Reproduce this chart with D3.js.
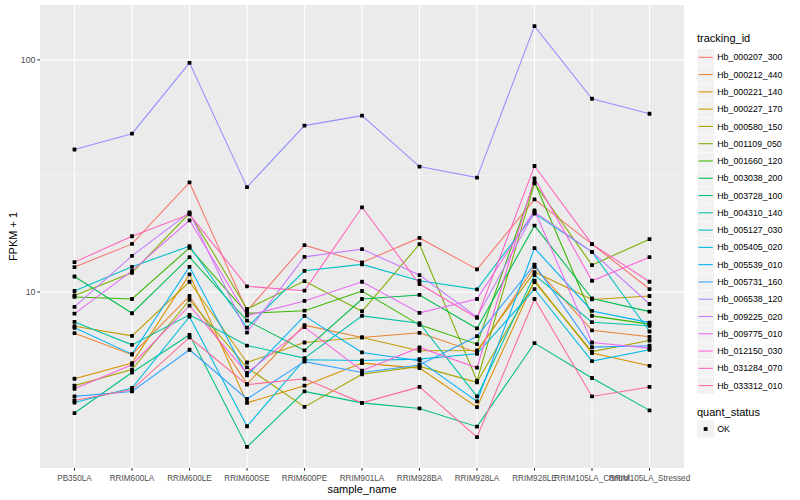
<!DOCTYPE html>
<html><head><meta charset="utf-8">
<script src="https://cdn.jsdelivr.net/npm/d3@7"></script>
<style>body{margin:0;background:#fff}svg{display:block;font-family:"Liberation Sans",Arial,sans-serif}</style>
</head><body>
<svg id="c" width="800" height="500"></svg>
<script>
const categories = ["PB350LA","RRIM600LA","RRIM600LE","RRIM600SE","RRIM600PE","RRIM901LA","RRIM928BA","RRIM928LA","RRIM928LE","RRIM105LA_Control","RRIM105LA_Stressed"];
const trackingIds = ["Hb_000207_300","Hb_000212_440","Hb_000221_140","Hb_000227_170","Hb_000580_150","Hb_001109_050","Hb_001660_120","Hb_003038_200","Hb_003728_100","Hb_004310_140","Hb_005127_030","Hb_005405_020","Hb_005539_010","Hb_005731_160","Hb_006538_120","Hb_009225_020","Hb_009775_010","Hb_012150_030","Hb_031284_070","Hb_033312_010"];
const hb_000207_300 = [12.80,16.12,29.65,8.29,15.91,13.41,17.10,12.52,25.07,16.07,10.30];
const hb_000212_440 = [6.65,5.37,9.61,4.02,7.20,6.37,6.67,5.49,12.84,6.84,6.41];
const hb_000221_140 = [4.23,4.94,11.91,3.33,3.95,4.94,4.70,3.19,11.20,5.46,4.81];
const hb_000227_170 = [7.12,6.47,11.07,4.97,6.06,6.37,5.58,5.60,12.19,9.29,9.61];
const hb_000580_150 = [3.95,4.63,9.24,4.73,3.20,4.42,4.78,4.08,11.04,5.54,6.18];
const hb_001109_050 = [9.66,12.10,21.83,8.45,11.15,8.26,16.07,4.15,29.36,13.06,16.89];
const hb_001660_120 = [9.52,9.33,15.49,8.10,8.31,10.10,7.22,5.96,29.80,7.89,7.27];
const hb_003038_200 = [11.66,8.10,14.13,7.53,5.60,9.33,9.71,6.97,19.33,9.38,8.23];
const hb_003728_100 = [3.01,4.50,6.54,2.15,3.73,3.33,3.15,2.63,6.02,4.26,3.09];
const hb_004310_140 = [7.43,5.92,7.97,5.88,5.19,7.89,7.34,3.55,11.83,7.41,7.15];
const hb_005127_030 = [10.10,12.84,15.76,7.03,12.34,13.15,11.18,10.27,21.76,14.89,6.76];
const hb_005405_020 = [3.34,3.86,7.83,2.64,5.11,5.07,5.14,5.42,10.30,5.04,5.64];
const hb_005539_010 = [7.01,5.40,12.84,4.37,7.89,5.49,5.06,3.38,15.45,8.29,7.38];
const hb_005731_160 = [3.55,3.73,5.64,3.46,5.01,4.50,4.85,6.45,13.12,5.79,5.87];
const hb_006538_120 = [41.1,48.1,97.1,28.3,52.1,57.5,34.7,31.1,139.9,68.0,58.6];
const hb_009225_020 = [8.62,14.32,22.05,6.69,14.17,15.30,11.83,7.79,22.11,14.89,8.88];
const hb_009775_010 = [8.07,12.34,20.37,7.91,9.15,11.07,8.13,9.33,22.48,6.06,5.73];
const hb_012150_030 = [3.83,4.86,8.73,4.48,7.06,4.58,5.77,4.72,30.85,11.18,14.13];
const hb_031284_070 = [13.45,17.39,21.61,10.58,10.13,23.17,10.82,7.73,34.9,16.07,11.07];
const hb_033312_010 = [3.41,3.80,6.37,3.99,4.23,3.33,3.90,2.37,9.33,3.55,3.90];
const seriesValues = [hb_000207_300,hb_000212_440,hb_000221_140,hb_000227_170,hb_000580_150,hb_001109_050,hb_001660_120,hb_003038_200,hb_003728_100,hb_004310_140,hb_005127_030,hb_005405_020,hb_005539_010,hb_005731_160,hb_006538_120,hb_009225_020,hb_009775_010,hb_012150_030,hb_031284_070,hb_033312_010];
const yMajorTicks = [10, 100];
const yMinorTicks = [Math.pow(10,0.5), Math.pow(10,1.5)];
const quantStatus = ["OK"];

const colors = ["#F8766D","#EA8331","#D89000","#C09B00","#A3A500","#7CAE00","#39B600","#00BB4E","#00BF7D","#00C1A3","#00BFC4","#00BAE0","#00B0F6","#35A2FF","#9590FF","#C77CFF","#E76BF3","#FA62DB","#FF62BC","#FF6C91"];

const svg = d3.select("#c");
const P = {l:40, r:684, t:5, b:468};

const x = d3.scalePoint().domain(categories).range([P.l, P.r]).padding(0.6);
const all = seriesValues.flat();
const lmin = Math.log10(d3.min(all)), lmax = Math.log10(d3.max(all));
const ex = (lmax - lmin) * 0.05;
const y = d3.scaleLog().domain([Math.pow(10, lmin-ex), Math.pow(10, lmax+ex)]).range([P.b, P.t]);

svg.append("rect").attr("x",P.l).attr("y",P.t).attr("width",P.r-P.l).attr("height",P.b-P.t).attr("fill","#EBEBEB");
const g = svg.append("g");
yMinorTicks.forEach(v => g.append("line").attr("x1",P.l).attr("x2",P.r).attr("y1",y(v)).attr("y2",y(v)).attr("stroke","#fff").attr("stroke-width",0.53));
yMajorTicks.forEach(v => g.append("line").attr("x1",P.l).attr("x2",P.r).attr("y1",y(v)).attr("y2",y(v)).attr("stroke","#fff").attr("stroke-width",1.07));
categories.forEach(c => g.append("line").attr("x1",x(c)).attr("x2",x(c)).attr("y1",P.t).attr("y2",P.b).attr("stroke","#fff").attr("stroke-width",1.07));

const line = d3.line().x((d,i)=>x(categories[i])).y(d=>y(d));
seriesValues.forEach((vals, si) => {
  svg.append("path").attr("d", line(vals)).attr("fill","none").attr("stroke",colors[si]).attr("stroke-width",1.07);
});
const ps = 3.8;
seriesValues.forEach(vals => {
  vals.forEach((v,i) => svg.append("rect").attr("x",x(categories[i])-ps/2).attr("y",y(v)-ps/2).attr("width",ps).attr("height",ps).attr("rx",0.6).attr("fill","#000"));
});

// y axis
const yAxisG = svg.append("g");
yMajorTicks.forEach(v => {
  yAxisG.append("line").attr("x1",P.l-2.7).attr("x2",P.l).attr("y1",y(v)).attr("y2",y(v)).attr("stroke","#333").attr("stroke-width",1.07);
  yAxisG.append("text").attr("x",P.l-4.5).attr("y",y(v)).attr("dy","0.35em").attr("text-anchor","end").attr("font-size",8.8).attr("fill","#4D4D4D").text(d3.format("d")(v));
});
// x axis
categories.forEach(c => {
  svg.append("line").attr("x1",x(c)).attr("x2",x(c)).attr("y1",P.b).attr("y2",P.b+2.7).attr("stroke","#333").attr("stroke-width",1.07);
  svg.append("text").attr("x",x(c)).attr("y",P.b+12.5).attr("text-anchor","middle").attr("font-size",8.2).attr("fill","#4D4D4D").text(c);
});
svg.append("text").attr("x",(P.l+P.r)/2).attr("y",493).attr("text-anchor","middle").attr("font-size",11).attr("fill","#000").text("sample_name");
svg.append("text").attr("transform",`translate(17,${(P.t+P.b)/2}) rotate(-90)`).attr("text-anchor","middle").attr("font-size",11).attr("fill","#000").text("FPKM + 1");

// legend
const lx = 697, ks = 17.28;
svg.append("text").attr("x",lx).attr("y",42).attr("font-size",11).attr("fill","#000").text("tracking_id");
trackingIds.forEach((id, i) => {
  const cy = 57.3 + i*ks;
  svg.append("rect").attr("x",lx).attr("y",cy-ks/2).attr("width",ks).attr("height",ks).attr("fill","#F2F2F2").attr("stroke","#fff").attr("stroke-width",0.5);
  svg.append("line").attr("x1",lx+1.5).attr("x2",lx+ks-1.5).attr("y1",cy).attr("y2",cy).attr("stroke",colors[i]).attr("stroke-width",1.07);
  svg.append("text").attr("x",lx+ks+3).attr("y",cy).attr("dy","0.35em").attr("font-size",8.8).attr("fill","#000").text(id);
});
svg.append("text").attr("x",lx).attr("y",416).attr("font-size",11).attr("fill","#000").text("quant_status");
quantStatus.forEach((q,i) => {
  const cy = 429 + i*ks;
  svg.append("rect").attr("x",lx).attr("y",cy-ks/2).attr("width",ks).attr("height",ks).attr("fill","#F2F2F2");
  svg.append("rect").attr("x",lx+ks/2-ps/2).attr("y",cy-ps/2).attr("width",ps).attr("height",ps).attr("fill","#000");
  svg.append("text").attr("x",lx+ks+3).attr("y",cy).attr("dy","0.35em").attr("font-size",8.8).attr("fill","#000").text(q);
});
</script>
</body></html>
